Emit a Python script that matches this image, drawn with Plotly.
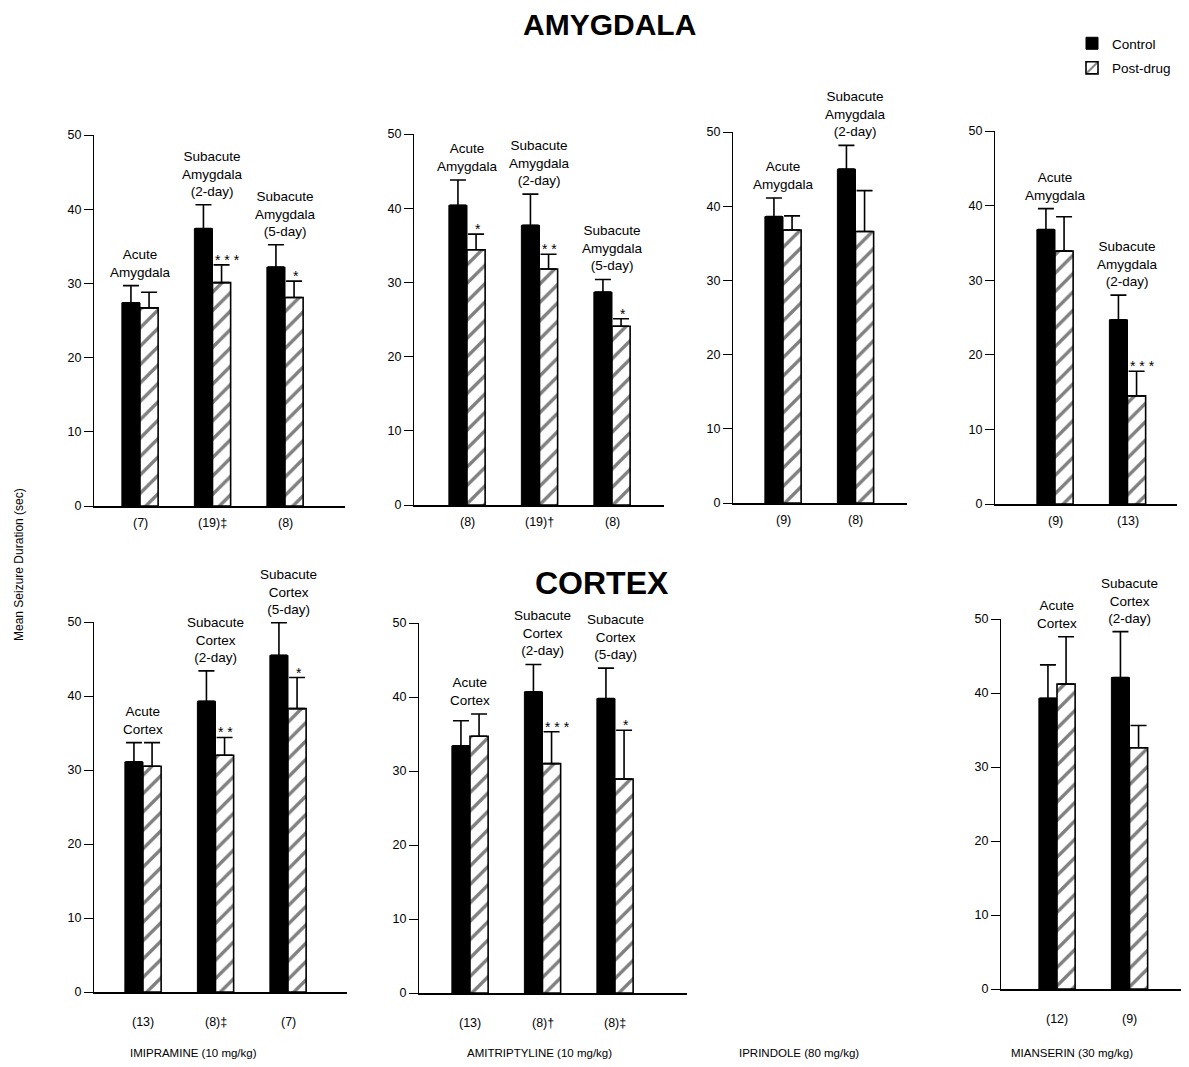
import plotly.graph_objects as go

# ---------------- DATA ----------------
amy_labels3 = ["Acute<br>Amygdala", "Subacute<br>Amygdala<br>(2-day)", "Subacute<br>Amygdala<br>(5-day)"]
amy_labels2 = ["Acute<br>Amygdala", "Subacute<br>Amygdala<br>(2-day)"]
ctx_labels3 = ["Acute<br>Cortex", "Subacute<br>Cortex<br>(2-day)", "Subacute<br>Cortex<br>(5-day)"]
ctx_labels2 = ["Acute<br>Cortex", "Subacute<br>Cortex<br>(2-day)"]

# Imipramine - amygdala
imi_amy_n = ["(7)", "(19)‡", "(8)"]
imi_amy_ctrl = [27.4, 37.4, 32.2]
imi_amy_ctrl_err = [2.3, 3.2, 3.0]
imi_amy_post = [26.7, 30.1, 28.1]
imi_amy_post_err = [2.1, 2.4, 2.2]
imi_amy_sig = ["", "* * *", "*"]

# Amitriptyline - amygdala
ami_amy_n = ["(8)", "(19)†", "(8)"]
ami_amy_ctrl = [40.4, 37.7, 28.7]
ami_amy_ctrl_err = [3.4, 4.2, 1.7]
ami_amy_post = [34.4, 31.8, 24.1]
ami_amy_post_err = [2.1, 2.0, 1.0]
ami_amy_sig = ["*", "* *", "*"]

# Iprindole - amygdala
ipr_amy_n = ["(9)", "(8)"]
ipr_amy_ctrl = [38.6, 45.0]
ipr_amy_ctrl_err = [2.5, 3.2]
ipr_amy_post = [36.8, 36.6]
ipr_amy_post_err = [1.9, 5.5]
ipr_amy_sig = ["", ""]

# Mianserin - amygdala
mia_amy_n = ["(9)", "(13)"]
mia_amy_ctrl = [36.8, 24.7]
mia_amy_ctrl_err = [2.8, 3.3]
mia_amy_post = [33.9, 14.5]
mia_amy_post_err = [4.6, 3.3]
mia_amy_sig = ["", "* * *"]

# Imipramine - cortex
imi_ctx_n = ["(13)", "(8)‡", "(7)"]
imi_ctx_ctrl = [31.1, 39.3, 45.5]
imi_ctx_ctrl_err = [2.6, 4.1, 4.4]
imi_ctx_post = [30.5, 32.0, 38.3]
imi_ctx_post_err = [3.2, 2.4, 4.2]
imi_ctx_sig = ["", "* *", "*"]

# Amitriptyline - cortex
ami_ctx_n = ["(13)", "(8)†", "(8)‡"]
ami_ctx_ctrl = [33.4, 40.7, 39.8]
ami_ctx_ctrl_err = [3.4, 3.7, 4.1]
ami_ctx_post = [34.7, 31.0, 28.9]
ami_ctx_post_err = [3.0, 4.3, 6.6]
ami_ctx_sig = ["", "* * *", "*"]

# Mianserin - cortex
mia_ctx_n = ["(12)", "(9)"]
mia_ctx_ctrl = [39.3, 42.1]
mia_ctx_ctrl_err = [4.5, 6.2]
mia_ctx_post = [41.2, 32.6]
mia_ctx_post_err = [6.4, 3.0]
mia_ctx_sig = ["", ""]

drug_names = ["IMIPRAMINE (10 mg/kg)", "AMITRIPTYLINE (10 mg/kg)", "IPRINDOLE (80 mg/kg)", "MIANSERIN (30 mg/kg)"]
y_ticks = [0, 10, 20, 30, 40, 50]

panels = [
    (amy_labels3, imi_amy_n, imi_amy_ctrl, imi_amy_ctrl_err, imi_amy_post, imi_amy_post_err, imi_amy_sig),
    (amy_labels3, ami_amy_n, ami_amy_ctrl, ami_amy_ctrl_err, ami_amy_post, ami_amy_post_err, ami_amy_sig),
    (amy_labels2, ipr_amy_n, ipr_amy_ctrl, ipr_amy_ctrl_err, ipr_amy_post, ipr_amy_post_err, ipr_amy_sig),
    (amy_labels2, mia_amy_n, mia_amy_ctrl, mia_amy_ctrl_err, mia_amy_post, mia_amy_post_err, mia_amy_sig),
    (ctx_labels3, imi_ctx_n, imi_ctx_ctrl, imi_ctx_ctrl_err, imi_ctx_post, imi_ctx_post_err, imi_ctx_sig),
    (ctx_labels3, ami_ctx_n, ami_ctx_ctrl, ami_ctx_ctrl_err, ami_ctx_post, ami_ctx_post_err, ami_ctx_sig),
    (ctx_labels2, mia_ctx_n, mia_ctx_ctrl, mia_ctx_ctrl_err, mia_ctx_post, mia_ctx_post_err, mia_ctx_sig),
]

# ---------------- LAYOUT GEOMETRY (pixels in the target picture) ----------------
W, H = 1189, 1067
OFF_X = 6          # page body margin of the browser
OFF_Y = 8
PX_PER_UNIT = 72.5


def px_x(px):
    return (px - OFF_X) / W


def px_y(py):
    return 1 - (py - OFF_Y) / H


# axis_x, right_x, first_group_center_x, y_of_0, y_of_50, n-label shift
geom = [
    (92, 343, 138, 506, 135, -8),
    (412, 662, 465, 505, 134, -8),
    (731, 905, 781, 503, 132, -8),
    (993, 1175, 1053, 504, 131, -8),
    (92, 345, 141, 992, 622, -21),
    (417, 685, 468, 993, 623, -21),
    (999, 1183, 1055, 989, 619, -21),
]

FONT = "Liberation Sans, Arial, Helvetica, sans-serif"

fig = go.Figure()
annotations = []

for i, (pn, g) in enumerate(zip(panels, geom), start=1):
    labels, nlab, c, ce, p, pe, sig = pn
    ax_px, r_px, c0_px, y0_px, y50_px, nshift = g
    xs = list(range(len(c)))
    xa = "x" if i == 1 else f"x{i}"
    ya = "y" if i == 1 else f"y{i}"
    fig.add_trace(go.Bar(
        x=xs, y=c, name="Control", showlegend=(i == 1), legendgroup="c",
        marker=dict(color="black", line=dict(color="black", width=1)),
        error_y=dict(type="data", symmetric=False, array=ce, arrayminus=[0] * len(c),
                     color="black", thickness=1.6, width=8),
        xaxis=xa, yaxis=ya, hoverinfo="skip"))
    fig.add_trace(go.Bar(
        x=xs, y=p, name="Post-drug", showlegend=(i == 1), legendgroup="p",
        marker=dict(color="white", line=dict(color="black", width=1.6),
                    pattern=dict(shape="/", fgcolor="black", bgcolor="white", size=13, solidity=0.26)),
        error_y=dict(type="data", symmetric=False, array=pe, arrayminus=[0] * len(p),
                     color="black", thickness=1.6, width=8),
        xaxis=xa, yaxis=ya, hoverinfo="skip"))

    xkey = "xaxis" if i == 1 else f"xaxis{i}"
    ykey = "yaxis" if i == 1 else f"yaxis{i}"
    fig.update_layout(**{
        xkey: dict(domain=[px_x(ax_px), px_x(r_px)],
                   range=[(ax_px - c0_px) / PX_PER_UNIT, (r_px - c0_px) / PX_PER_UNIT],
                   anchor=ya, showline=True, linecolor="black", linewidth=1.5,
                   showticklabels=False, ticks="", showgrid=False, zeroline=False,
                   fixedrange=True, automargin=False),
        ykey: dict(domain=[px_y(y0_px), px_y(y50_px)], range=[0, 50],
                   anchor=xa, showline=True, linecolor="black", linewidth=1.3,
                   tickvals=y_ticks, ticks="outside", ticklen=9, tickwidth=1.3, tickcolor="black",
                   tickfont=dict(size=12.5, color="black", family=FONT),
                   showgrid=False, zeroline=False, fixedrange=True, automargin=False),
    })

    for k in xs:
        top = max(c[k] + ce[k], p[k] + pe[k])
        annotations.append(dict(x=k, y=top, xref=xa, yref=ya, text=labels[k], showarrow=False,
                                yanchor="bottom", xanchor="center", yshift=4, align="center",
                                font=dict(size=13.5, color="black", family=FONT)))
        annotations.append(dict(x=k, y=0, xref=xa, yref=ya, text=nlab[k], showarrow=False,
                                yanchor="top", xanchor="center", yshift=nshift,
                                font=dict(size=12.5, color="black", family=FONT)))
        if sig[k]:
            if len(sig[k]) > 1:
                annotations.append(dict(x=k, y=p[k] + pe[k], xref=xa, yref=ya, text=sig[k],
                                        showarrow=False, yanchor="bottom", xanchor="left",
                                        xshift=0, yshift=-5,
                                        font=dict(size=14, color="black", family=FONT)))
            else:
                annotations.append(dict(x=k + 0.125, y=p[k] + pe[k], xref=xa, yref=ya, text=sig[k],
                                        showarrow=False, yanchor="bottom", xanchor="center",
                                        xshift=2, yshift=-5,
                                        font=dict(size=14, color="black", family=FONT)))

# titles and labels
annotations.append(dict(x=px_x(607), y=px_y(24), xref="paper", yref="paper", text="<b>AMYGDALA</b>",
                        showarrow=False, xanchor="center", yanchor="middle",
                        font=dict(size=30, color="black", family=FONT)))
annotations.append(dict(x=px_x(600), y=px_y(583), xref="paper", yref="paper", text="<b>CORTEX</b>",
                        showarrow=False, xanchor="center", yanchor="middle",
                        font=dict(size=32, color="black", family=FONT)))
annotations.append(dict(x=px_x(17), y=px_y(565), xref="paper", yref="paper",
                        text="Mean Seizure Duration (sec)", textangle=-90, showarrow=False,
                        xanchor="center", yanchor="middle", font=dict(size=12, color="black", family=FONT)))
for name, xpx in zip(drug_names, [191, 537, 797, 1070]):
    annotations.append(dict(x=px_x(xpx), y=px_y(1053), xref="paper", yref="paper", text=name,
                            showarrow=False, xanchor="center", yanchor="middle",
                            font=dict(size=11.5, color="black", family=FONT)))

fig.update_layout(
    width=W, height=H, margin=dict(l=0, r=0, t=0, b=0, pad=0, autoexpand=False),
    paper_bgcolor="white", plot_bgcolor="white",
    barmode="group", bargap=0.5, bargroupgap=0,
    annotations=annotations,
    showlegend=True,
    legend=dict(x=px_x(1070), y=px_y(28), xanchor="left", yanchor="top",
                font=dict(size=13.5, color="black", family=FONT), bgcolor="rgba(0,0,0,0)",
                tracegroupgap=4, itemwidth=30),
    font=dict(family=FONT, color="black"),
)

fig.write_html("out.html")
